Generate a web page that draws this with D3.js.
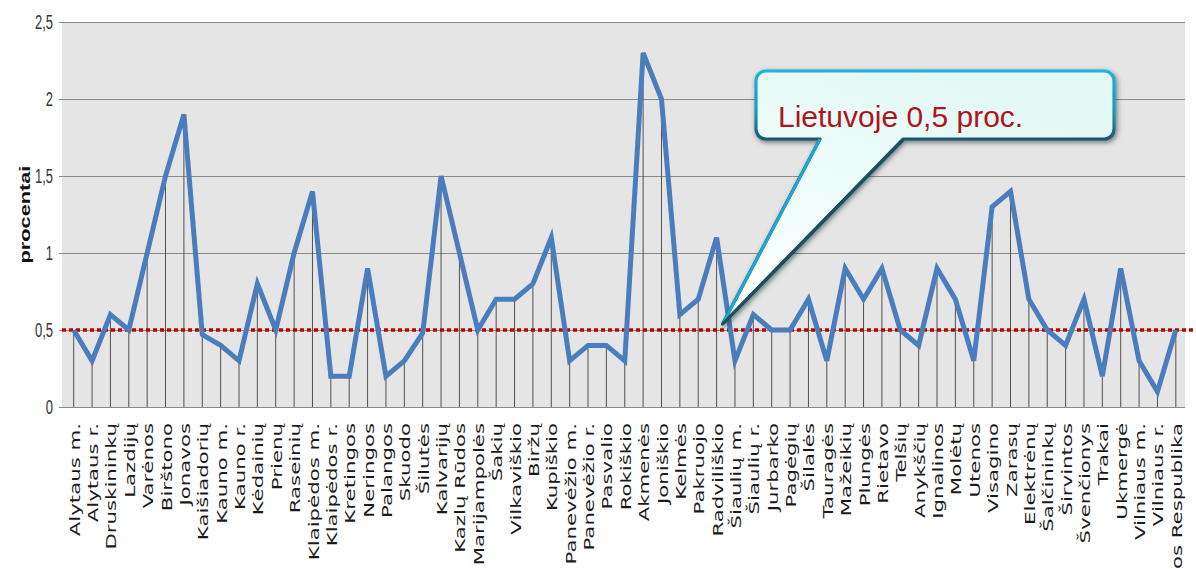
<!DOCTYPE html>
<html>
<head>
<meta charset="utf-8">
<script src="https://cdn.jsdelivr.net/npm/d3@7"></script>
<style>
  html, body { margin: 0; padding: 0; background: #fff; }
  svg { display: block; }
</style>
</head>
<body>
<svg id="chart" width="1196" height="569"></svg>
<script>
// Municipalities (savivaldybės) along the x axis
const municipalities = [
  "Alytaus m.", "Alytaus r.", "Druskininkų", "Lazdijų", "Varėnos", "Birštono", "Jonavos",
  "Kaišiadorių", "Kauno m.", "Kauno r.", "Kėdainių", "Prienų", "Raseinių", "Klaipėdos m.",
  "Klaipėdos r.", "Kretingos", "Neringos", "Palangos", "Skuodo", "Šilutės", "Kalvarijų",
  "Kazlų Rūdos", "Marijampolės", "Šakių", "Vilkaviškio", "Biržų", "Kupiškio", "Panevėžio m.",
  "Panevėžio r.", "Pasvalio", "Rokiškio", "Akmenės", "Joniškio", "Kelmės", "Pakruojo",
  "Radviliškio", "Šiaulių m.", "Šiaulių r.", "Jurbarko", "Pagėgių", "Šilalės", "Tauragės",
  "Mažeikių", "Plungės", "Rietavo", "Telšių", "Anykščių", "Ignalinos", "Molėtų", "Utenos",
  "Visagino", "Zarasų", "Elektrėnų", "Šalčininkų", "Širvintos", "Švenčionys", "Trakai",
  "Ukmergė", "Vilniaus m.", "Vilniaus r.", "Lietuvos Respublika"
];

// Share, percent
const procentai = [
  0.5, 0.3, 0.6, 0.5, 1.0, 1.5, 1.9,
  0.47, 0.4, 0.3, 0.8, 0.5, 1.0, 1.4,
  0.2, 0.2, 0.9, 0.2, 0.3, 0.48, 1.5,
  1.0, 0.5, 0.7, 0.7, 0.8, 1.1, 0.3,
  0.4, 0.4, 0.3, 2.3, 2.0, 0.6, 0.7,
  1.1, 0.3, 0.6, 0.5, 0.5, 0.7, 0.3,
  0.9, 0.7, 0.9, 0.5, 0.4, 0.9, 0.7, 0.3,
  1.3, 1.4, 0.7, 0.5, 0.4, 0.7, 0.2,
  0.9, 0.3, 0.1, 0.5
];

// National average
const lietuvosVidurkis = 0.5;
const calloutText = "Lietuvoje 0,5 proc.";
const calloutTarget = "Radviliškio";

const yTicks = [0, 0.5, 1, 1.5, 2, 2.5];
const yTickLabels = ["0", "0,5", "1", "1,5", "2", "2,5"];
const yTitle = "procentai";

const svg = d3.select("#chart");

const plot = { left: 62, right: 1185, top: 22, bottom: 407 };

const x = d3.scalePoint()
  .domain(municipalities)
  .range([64.5, plot.right])
  .padding(0.5);

const y = d3.scaleLinear()
  .domain([0, 2.5])
  .range([plot.bottom, plot.top]);

const defs = svg.append("defs");

// plot background
svg.append("rect")
  .attr("x", plot.left).attr("y", plot.top)
  .attr("width", plot.right - plot.left)
  .attr("height", plot.bottom - plot.top)
  .attr("fill", "#e5e5e5");

// horizontal gridlines
svg.append("g")
  .selectAll("line")
  .data(yTicks)
  .join("line")
  .attr("x1", 59).attr("x2", plot.right)
  .attr("y1", d => Math.round(y(d)) + 0.5)
  .attr("y2", d => Math.round(y(d)) + 0.5)
  .attr("stroke", "#8a8a8a")
  .attr("stroke-width", 1.2);

// y tick labels (narrow, tall lettering)
svg.append("g")
  .selectAll("text")
  .data(yTicks)
  .join("text")
  .attr("transform", d => `translate(53,${y(d)}) scale(1,1.5)`)
  .attr("text-anchor", "end")
  .attr("dy", "0.36em")
  .attr("font-family", "Liberation Sans, Arial, sans-serif")
  .attr("font-size", 13)
  .attr("fill", "#333")
  .text((d, i) => yTickLabels[i]);

// y axis title
svg.append("text")
  .attr("transform", `translate(25,${(plot.top + plot.bottom) / 2}) scale(1,1.5) rotate(-90)`)
  .attr("text-anchor", "middle")
  .attr("dy", "0.35em")
  .attr("font-family", "Liberation Sans, Arial, sans-serif")
  .attr("font-weight", "bold")
  .attr("font-size", 14.5)
  .attr("fill", "#111")
  .text(yTitle);

// drop lines from each point to the baseline
svg.append("g")
  .selectAll("line")
  .data(municipalities)
  .join("line")
  .attr("x1", d => x(d)).attr("x2", d => x(d))
  .attr("y1", (d, i) => y(procentai[i]))
  .attr("y2", y(0))
  .attr("stroke", "#505050")
  .attr("stroke-width", 1);

// national average reference line
svg.append("line")
  .attr("x1", plot.left).attr("x2", 1194)
  .attr("y1", y(lietuvosVidurkis)).attr("y2", y(lietuvosVidurkis))
  .attr("stroke", "#c00000")
  .attr("stroke-width", 3.5)
  .attr("stroke-dasharray", "4,3");

// data line
const line = d3.line()
  .x((d, i) => x(municipalities[i]))
  .y(d => y(d));

svg.append("path")
  .datum(procentai)
  .attr("d", line)
  .attr("fill", "none")
  .attr("stroke", "#4a7dbd")
  .attr("stroke-width", 5)
  .attr("stroke-linejoin", "miter")
  .attr("stroke-miterlimit", 4);

// x category labels, rotated
svg.append("g")
  .selectAll("text")
  .data(municipalities)
  .join("text")
  .attr("transform", d => `translate(${x(d) + 1},423) scale(1,1.52) rotate(-90)`)
  .attr("text-anchor", "end")
  .attr("dy", "0.36em")
  .attr("font-family", "DejaVu Sans, Verdana, sans-serif")
  .attr("font-size", 14)
  .attr("fill", "#1a1a1a")
  .text(d => d);

// callout bubble
const grad = defs.append("linearGradient")
  .attr("id", "bubbleFill")
  .attr("x1", "0").attr("y1", "1").attr("x2", "0.6").attr("y2", "0");
grad.append("stop").attr("offset", "0").attr("stop-color", "#ffffff");
grad.append("stop").attr("offset", "0.5").attr("stop-color", "#eefdfb");
grad.append("stop").attr("offset", "1").attr("stop-color", "#e2f9f5");

const edge = defs.append("linearGradient")
  .attr("id", "bubbleEdge")
  .attr("gradientUnits", "userSpaceOnUse")
  .attr("x1", 0).attr("y1", 70).attr("x2", 0).attr("y2", 142);
edge.append("stop").attr("offset", "0").attr("stop-color", "#22b0e2");
edge.append("stop").attr("offset", "0.6").attr("stop-color", "#1a95c0");
edge.append("stop").attr("offset", "1").attr("stop-color", "#1b4f5e");

const shadow = defs.append("filter")
  .attr("id", "bubbleShadow")
  .attr("x", "-10%").attr("y", "-10%").attr("width", "130%").attr("height", "130%");
shadow.append("feDropShadow")
  .attr("dx", 1.5).attr("dy", 2)
  .attr("stdDeviation", 2.5)
  .attr("flood-color", "#0e2a30")
  .attr("flood-opacity", 0.6);

const bx0 = 756, bx1 = 1114, by0 = 71, by1 = 139, r = 10;
const baseL = 820, baseR = 903;
const tipX = x(calloutTarget) + 6;
const tipY = y(lietuvosVidurkis) - 6;

const bubble = d3.path();
bubble.moveTo(bx0 + r, by0);
bubble.lineTo(bx1 - r, by0);
bubble.arcTo(bx1, by0, bx1, by0 + r, r);
bubble.lineTo(bx1, by1 - r);
bubble.arcTo(bx1, by1, bx1 - r, by1, r);
bubble.lineTo(baseR, by1);
bubble.lineTo(tipX, tipY);
bubble.lineTo(baseL, by1);
bubble.lineTo(bx0 + r, by1);
bubble.arcTo(bx0, by1, bx0, by1 - r, r);
bubble.lineTo(bx0, by0 + r);
bubble.arcTo(bx0, by0, bx0 + r, by0, r);
bubble.closePath();

svg.append("path")
  .attr("d", bubble.toString())
  .attr("fill", "url(#bubbleFill)")
  .attr("stroke", "url(#bubbleEdge)")
  .attr("stroke-width", 3.2)
  .attr("stroke-linejoin", "round")
  .attr("filter", "url(#bubbleShadow)");

// pointer edges: bright on the left, dark on the right
svg.append("line")
  .attr("x1", baseL).attr("y1", by1).attr("x2", tipX).attr("y2", tipY)
  .attr("stroke", "#1ea6d6").attr("stroke-width", 3);
svg.append("line")
  .attr("x1", baseR).attr("y1", by1 + 1).attr("x2", tipX).attr("y2", tipY)
  .attr("stroke", "#1b4f5e").attr("stroke-width", 3);

svg.append("text")
  .attr("x", 778).attr("y", 127)
  .attr("font-family", "Liberation Sans, Arial, sans-serif")
  .attr("font-size", 30)
  .attr("fill", "#b0141c")
  .text(calloutText);
</script>
</body>
</html>
